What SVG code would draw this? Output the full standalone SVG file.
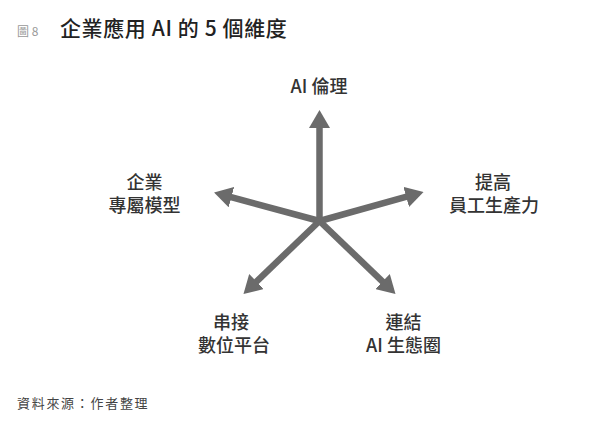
<svg xmlns="http://www.w3.org/2000/svg" width="600" height="424" viewBox="0 0 600 424">
  <style>
    text { font-family: "Noto Sans CJK TC", "Noto Sans", "Liberation Sans", sans-serif; }
    .lbl { font-size: 18px; fill: #333; text-anchor: middle; font-weight: 500; }
    .arrow { stroke: #6b6b6b; stroke-width: 6.5; fill: none; marker-end: url(#head); }
  </style>
  <defs>
    <marker id="head" markerUnits="userSpaceOnUse" markerWidth="18" markerHeight="21" refX="8" refY="10.5" orient="auto">
      <path d="M0,0 L18,10.5 L0,21 z" fill="#6b6b6b"/>
    </marker>
  </defs>
  <rect width="600" height="424" fill="#ffffff"/>
  <g id="title">
    <text x="17" y="36" font-size="12" fill="#999">圖 8</text>
    <text x="60" y="36" font-size="21" fill="#222" font-weight="500" letter-spacing="0.6">企業應用 AI 的 5 個維度</text>
  </g>
  <g id="connectors">
    <path class="arrow" d="M319.5,221 L319.5,120"/>
    <path class="arrow" d="M319.5,221 L223.7,195.1"/>
    <path class="arrow" d="M319.5,221 L413.9,194.7"/>
    <path class="arrow" d="M319.5,221 L250.7,287.1"/>
    <path class="arrow" d="M319.5,221 L388.3,287.1"/>
  </g>
  <g id="node-ethics">
    <text class="lbl" x="319" y="93">AI 倫理</text>
  </g>
  <g id="node-model">
    <text class="lbl" x="144.5" y="189">企業</text>
    <text class="lbl" x="144.5" y="212">專屬模型</text>
  </g>
  <g id="node-productivity">
    <text class="lbl" x="493" y="189">提高</text>
    <text class="lbl" x="494" y="212">員工生產力</text>
  </g>
  <g id="node-platform">
    <text class="lbl" x="231" y="329">串接</text>
    <text class="lbl" x="234" y="352">數位平台</text>
  </g>
  <g id="node-ecosystem">
    <text class="lbl" x="403.5" y="329">連結</text>
    <text class="lbl" x="403.5" y="352">AI 生態圈</text>
  </g>
  <g id="source">
    <text x="17" y="408" font-size="13" fill="#444" letter-spacing="1.7">資料來源：作者整理</text>
  </g>
</svg>
